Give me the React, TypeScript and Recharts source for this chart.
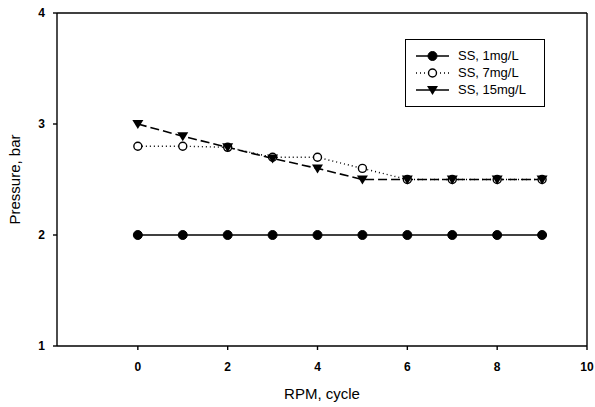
import { Line, LineChart, ReferenceLine, XAxis, YAxis } from 'recharts';

const cycles = [0, 1, 2, 3, 4, 5, 6, 7, 8, 9];
const ss1 = [2.0, 2.0, 2.0, 2.0, 2.0, 2.0, 2.0, 2.0, 2.0, 2.0];
const ss7 = [2.8, 2.8, 2.79, 2.7, 2.7, 2.6, 2.5, 2.5, 2.5, 2.5];
const ss15 = [3.0, 2.89, 2.79, 2.69, 2.6, 2.5, 2.5, 2.5, 2.5, 2.5];

const xTicks = [0, 2, 4, 6, 8, 10];
const yTicks = [1, 2, 3, 4];

const data = cycles.map((c, i) => ({ c, ss1: ss1[i], ss7: ss7[i], ss15: ss15[i] }));

const FONT = '"Liberation Sans", Arial, sans-serif';

const FilledDot = (p: any) => <circle key={p.key} cx={p.cx} cy={p.cy} r={4.5} fill="#000" stroke="#000" />;
const OpenDot = (p: any) => <circle key={p.key} cx={p.cx} cy={p.cy} r={4} fill="#fff" stroke="#000" strokeWidth={1.4} />;
const TriDot = (p: any) => (
  <polygon
    key={p.key}
    points={`${p.cx - 5.5},${p.cy - 4} ${p.cx + 5.5},${p.cy - 4} ${p.cx},${p.cy + 5}`}
    fill="#000"
  />
);

const legendRows = [
  { label: 'SS, 1mg/L', dash: undefined, Dot: FilledDot },
  { label: 'SS, 7mg/L', dash: '1 3', Dot: OpenDot },
  { label: 'SS, 15mg/L', dash: undefined, Dot: TriDot },
];

function LegendBox() {
  return (
    <div
      style={{
        position: 'absolute',
        left: 405,
        top: 39,
        border: '1.2px solid #000',
        width: 140,
        height: 68,
        boxSizing: 'border-box',
        padding: '7px 0 0 9px',
        fontFamily: FONT,
        fontSize: 13,
        background: '#fff',
      }}
    >
      {legendRows.map((r) => (
        <div key={r.label} style={{ display: 'flex', alignItems: 'center', height: 17 }}>
          <svg width={36} height={14}>
            <line x1={1} y1={7} x2={34} y2={7} stroke="#000" strokeWidth={1.4} strokeDasharray={r.dash} />
            <r.Dot cx={17.5} cy={7} />
          </svg>
          <span style={{ marginLeft: 7 }}>{r.label}</span>
        </div>
      ))}
    </div>
  );
}

export default function App() {
  return (
    <div style={{ position: 'absolute', left: 0, top: 0, width: 595, height: 407, background: '#fff' }}>
      <LineChart width={595} height={407} data={data} margin={{ top: 13, right: 8, left: 0, bottom: 0 }}>
        <XAxis
          dataKey="c"
          type="number"
          domain={[-1.8, 10]}
          ticks={xTicks}
          allowDataOverflow
          height={61}
          tickSize={4}
          tickMargin={12}
          stroke="#000"
          strokeWidth={1.4}
          tick={{ fill: '#000', fontSize: 12, fontWeight: 'bold', fontFamily: FONT }}
          label={{ value: 'RPM, cycle', position: 'insideBottom', offset: 8, fill: '#000', fontSize: 15, fontFamily: FONT }}
        />
        <YAxis
          type="number"
          domain={[1, 4]}
          ticks={yTicks}
          width={57}
          tickSize={4}
          tickMargin={8}
          stroke="#000"
          strokeWidth={1.4}
          tick={{ fill: '#000', fontSize: 12, fontWeight: 'bold', fontFamily: FONT }}
          label={{ value: 'Pressure, bar', angle: -90, position: 'insideLeft', offset: 15, fill: '#000', fontSize: 15, fontFamily: FONT, style: { textAnchor: 'middle' } }}
        />
        <ReferenceLine y={4} stroke="#000" strokeWidth={1.4} />
        <ReferenceLine x={10} stroke="#000" strokeWidth={1.4} />
        <Line dataKey="ss1" stroke="#000" strokeWidth={1.4} dot={FilledDot} isAnimationActive={false} />
        <Line dataKey="ss7" stroke="#000" strokeWidth={1.4} strokeDasharray="1 3" dot={OpenDot} isAnimationActive={false} />
        <Line dataKey="ss15" stroke="#000" strokeWidth={1.6} strokeDasharray="9 4" dot={TriDot} isAnimationActive={false} />
      </LineChart>
      <LegendBox />
    </div>
  );
}
